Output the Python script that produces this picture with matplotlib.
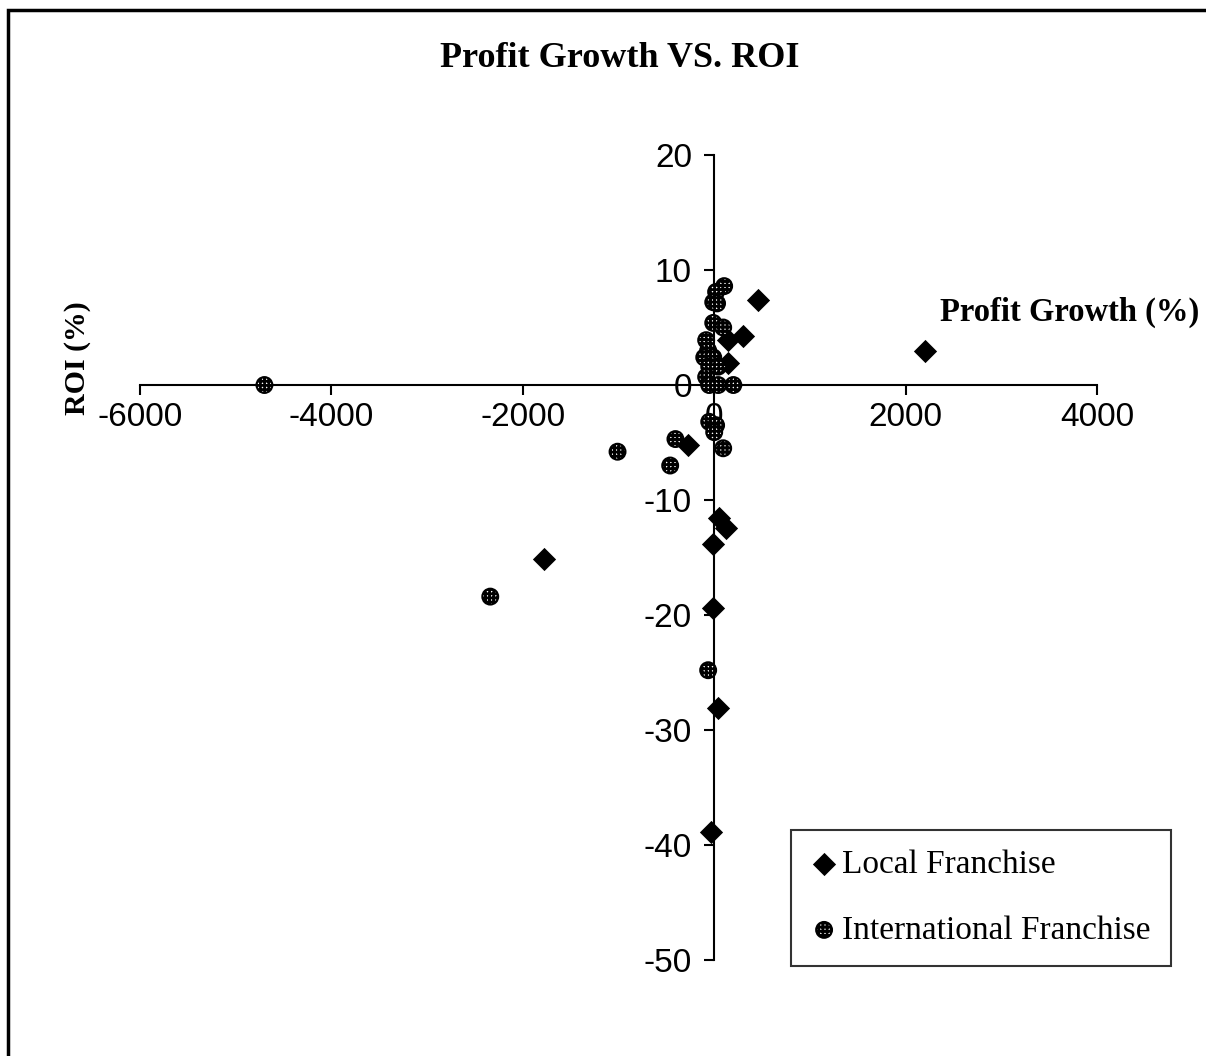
import matplotlib.pyplot as plt
from matplotlib.patches import Rectangle

# Local franchise: profit growth (%) vs ROI (%)
local_growth = [2200, 457, 300, 143, 143, -275, 52, 125, -14, -1776, -14, 38, -31]
local_roi = [3.0, 7.4, 4.3, 3.9, 1.9, -5.2, -11.6, -12.4, -13.8, -15.1, -19.4, -28.1, -38.9]

# International franchise
intl_growth = [-4700, -2340, -1010, -405, -460, -63,
               104, 20, -10, 30, -10, 94, -84, -63, -104, -10, -52, 42,
               -84, -52, 42, 200, -52, 20, 0, 94]
intl_roi = [0.0, -18.4, -5.8, -4.7, -7.0, -24.8,
            8.6, 8.1, 7.2, 7.1, 5.4, 5.0, 3.9, 3.0, 2.4, 2.4, 1.6, 1.6,
            0.7, 0.0, 0.0, 0.0, -3.2, -3.5, -4.1, -5.5]

x_ticks = [-6000, -4000, -2000, 0, 2000, 4000]
y_ticks = [20, 10, 0, -10, -20, -30, -40, -50]

plt.rcParams['hatch.linewidth'] = 2.0
plt.rcParams['axes.unicode_minus'] = False
serif = 'Liberation Serif'
sans = 'Liberation Sans'

fig = plt.figure(figsize=(12.06, 10.56), dpi=100)
ax = fig.add_axes([0.1161, 0.0909, 0.7935, 0.7623])

ax.scatter(local_growth, local_roi, marker='D', s=140, color='black',
           linewidths=0, label='Local Franchise', zorder=3)
ax.scatter(intl_growth, intl_roi, marker='o', s=130, facecolors='white',
           edgecolors='black', hatch='++++', linewidths=1.5,
           label='International Franchise', zorder=3)

ax.set_xlim(-6000, 4000)
ax.set_ylim(-50, 20)
ax.set_xticks(x_ticks)
ax.set_yticks(y_ticks)

# axes cross at the origin
ax.spines['left'].set_position(('data', 0))
ax.spines['bottom'].set_position(('data', 0))
ax.spines['top'].set_visible(False)
ax.spines['right'].set_visible(False)
for s in ('left', 'bottom'):
    ax.spines[s].set_linewidth(1.5)
ax.tick_params(direction='out', length=7, width=1.5, labelsize=24)
ax.tick_params(axis='x', pad=5)
ax.tick_params(axis='y', pad=9)
for lab in ax.get_xticklabels() + ax.get_yticklabels():
    lab.set_fontfamily(sans)

fig.text(0.514, 0.945, 'Profit Growth VS. ROI', ha='center', va='center',
         fontsize=26, fontweight='bold', family=serif)
fig.text(0.887, 0.704, 'Profit Growth (%)', ha='center', va='center',
         fontsize=23.5, fontweight='bold', family=serif)
fig.text(0.064, 0.661, 'ROI (%)', ha='center', va='center', rotation=90,
         fontsize=21.5, fontweight='bold', family=serif)

leg = ax.legend(loc='lower left', bbox_to_anchor=(0.680, -0.007),
                prop={'family': serif, 'size': 24}, frameon=True,
                fancybox=False, edgecolor='black', handletextpad=0.15,
                handlelength=0.8, labelspacing=1.05, borderpad=0.6,
                borderaxespad=0)
leg.get_frame().set_linewidth(1.5)

# outer chart border (only the left and top edges fall inside the image)
fig.patches.append(Rectangle((0.0066, -0.1), 1.2, 1.0905, transform=fig.transFigure,
                             fill=False, edgecolor='black', linewidth=2.5))

fig.savefig('out.png', dpi=100)
